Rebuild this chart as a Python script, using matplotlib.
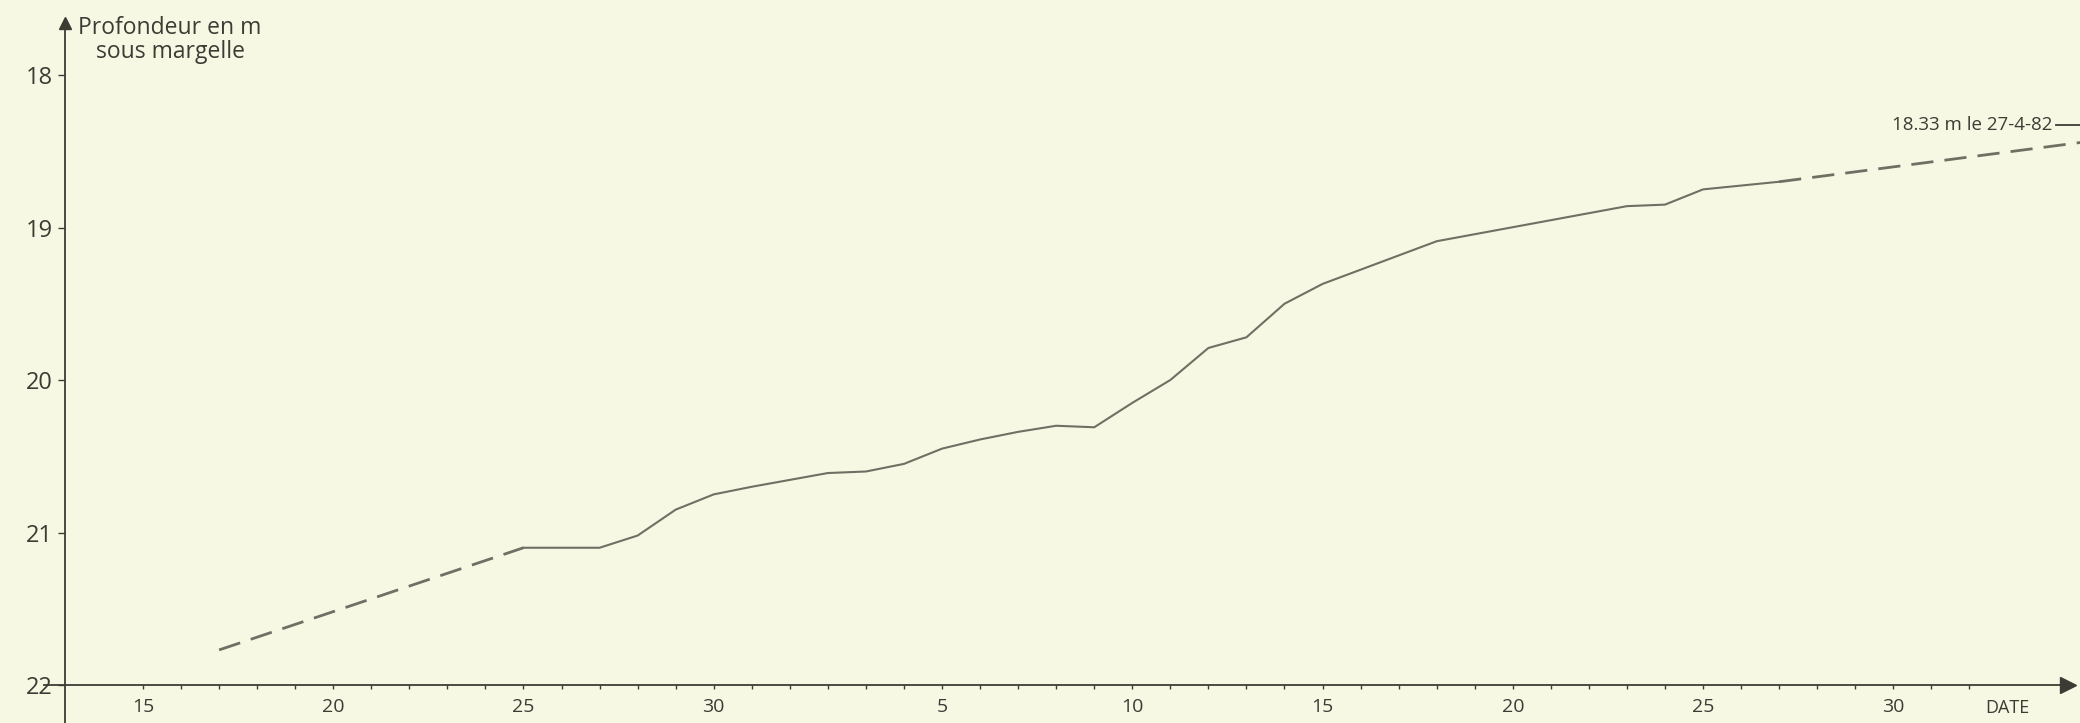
import matplotlib
matplotlib.use("Agg")
import matplotlib.pyplot as plt
import matplotlib.transforms as mtransforms

plt.rcParams['font.family'] = ['Open Sans', 'DejaVu Sans']

# day index: 0 = the "15" of the first month (31 days), 21 = "5" of the second
tick_days = [0, 5, 10, 15, 21, 26, 31, 36, 41, 46]
tick_labels = ['15', '20', '25', '30', '5', '10', '15', '20', '25', '30']
depth_ticks = [18, 19, 20, 21, 22]

# measured levels (solid line)
days = [10, 11, 12, 13, 14, 15, 16, 18, 19, 20, 21, 22, 23, 24, 25, 26, 27,
        28, 29, 30, 31, 34, 39, 40, 41, 43]
depth = [21.10, 21.10, 21.10, 21.02, 20.85, 20.75, 20.70, 20.61, 20.60, 20.55,
         20.45, 20.39, 20.34, 20.30, 20.31, 20.15, 20.00, 19.79, 19.72, 19.50,
         19.37, 19.09, 18.86, 18.85, 18.75, 18.70]

# extrapolated parts (dashed)
before_days = [2, 10]
before_depth = [21.77, 21.10]
after_days = [43, 51]
after_depth = [18.70, 18.44]

annot_depth = 18.33
annot_text = '18.33 m le 27-4-82'

bg = '#f7f8e4'
ink = '#3c3c34'
line_col = '#6f6f63'

fig = plt.figure(figsize=(20.8, 7.23), dpi=100)
fig.patch.set_facecolor(bg)
ax = fig.add_axes([0, 0, 1, 1])
ax.set_facecolor(bg)

# pixel layout: x_px = 143 + 38.05*day, y_px = 75 + 152.5*(depth-18)
ax.set_xlim(-143 / 38.05, (2080 - 143) / 38.05)
ax.set_ylim(18 + (723 - 75) / 152.5, 18 - 75 / 152.5)

ax.plot(before_days, before_depth, color=line_col, lw=2, dashes=(8, 4))
ax.plot(days, depth, color=line_col, lw=1.5)
ax.plot(after_days, after_depth, color=line_col, lw=2, dashes=(8, 4))

for s in ['top', 'right']:
    ax.spines[s].set_visible(False)
y_axis_x = -2.05
ax.spines['left'].set_position(('data', y_axis_x))
ax.spines['bottom'].set_position(('data', 22))
ax.spines['left'].set_bounds(22.3, 17.68)
ax.spines['bottom'].set_bounds(-2.6, 50.5)
for s in ['left', 'bottom']:
    ax.spines[s].set_color(ink)
    ax.spines[s].set_linewidth(1.3)

# arrow heads
ax.plot(y_axis_x, 17.66, marker='^', ms=9, color=ink, clip_on=False)
ax.plot(50.6, 22, marker='>', ms=11, color=ink, clip_on=False)

ax.set_xticks(tick_days)
ax.set_xticklabels(tick_labels)
ax.set_xticks(range(0, 49), minor=True)
ax.set_yticks(depth_ticks)
ax.set_yticklabels([str(v) for v in depth_ticks])
ax.tick_params(axis='x', which='both', direction='out', length=3, width=1,
               color=ink, labelcolor=ink, labelsize=14, pad=6)
ax.tick_params(axis='y', direction='out', length=5, width=1,
               color=ink, labelcolor=ink, labelsize=17, pad=4)

ax.text(170 / 2080, 1 - 40 / 723, 'Profondeur en m\nsous margelle',
        transform=ax.transAxes, ha='center', va='center', fontsize=16.5,
        color=ink, linespacing=1.0)

blend = mtransforms.blended_transform_factory(ax.transAxes, ax.transData)
ax.text(2052 / 2080, annot_depth, annot_text, transform=blend,
        ha='right', va='center', fontsize=13.5, color=ink)
ax.plot([2056 / 2080, 1.0], [annot_depth, annot_depth], transform=blend,
        color=ink, lw=1.3, clip_on=False)

ax.text(49, 22, 'DATE', ha='center', va='top', fontsize=13, color=ink,
        transform=ax.transData + mtransforms.ScaledTranslation(0, -10 / 72, fig.dpi_scale_trans))

fig.savefig('out.png', dpi=100, facecolor=bg)
